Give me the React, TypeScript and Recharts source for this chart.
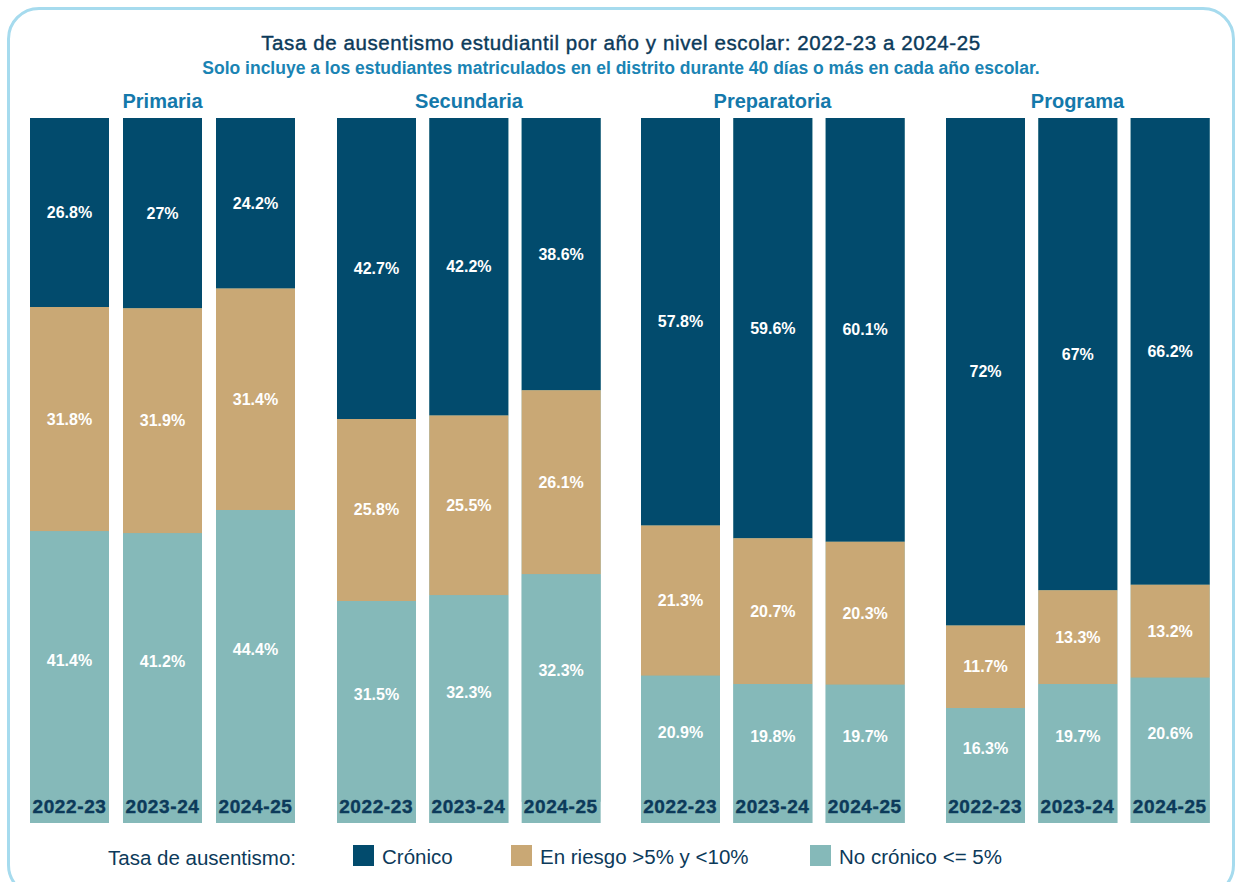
import React from 'react';
import { BarChart, Bar, XAxis, YAxis, LabelList } from 'recharts';

const years = ['2022-23', '2023-24', '2024-25'];
const levels = ['Primaria', 'Secundaria', 'Preparatoria', 'Programa'];
const cronico = [[26.8, 27, 24.2], [42.7, 42.2, 38.6], [57.8, 59.6, 60.1], [72, 67, 66.2]];
const enRiesgo = [[31.8, 31.9, 31.4], [25.8, 25.5, 26.1], [21.3, 20.7, 20.3], [11.7, 13.3, 13.2]];
const noCronico = [[41.4, 41.2, 44.4], [31.5, 32.3, 32.3], [20.9, 19.8, 19.7], [16.3, 19.7, 20.6]];
const seriesNames = ['Crónico', 'En riesgo >5% y <10%', 'No crónico <= 5%'];

const DARK = '#024b6d';
const TAN = '#c9a875';
const TEAL = '#85b9b9';
const NAVY = '#0c3a5a';
const FONT = '"Liberation Sans", Arial, Helvetica, sans-serif';

const panelLeft = [23, 330, 634, 939];
const panelWidth = [279, 277, 277, 277];

const makeLabel = (shift: number) => (props: any) => {
  const { x, y, width, height, value } = props;
  return (
    <text
      x={x + width / 2}
      y={y + height / 2 + shift}
      textAnchor="middle"
      dominantBaseline="central"
      fill="#ffffff"
      fontFamily={FONT}
      fontWeight="bold"
      fontSize={16}
    >
      {value}%
    </text>
  );
};

const YearTick = (props: any) => {
  const { x, y, payload } = props;
  return (
    <text
      x={x}
      y={y - 25}
      textAnchor="middle"
      dominantBaseline="central"
      fill={NAVY}
      fontFamily={FONT}
      fontWeight="bold"
      fontSize={19}
      letterSpacing={0.6}
      stroke={NAVY}
      strokeWidth={0.4}
    >
      {payload.value}
    </text>
  );
};

const Panel = ({ idx }: { idx: number }) => {
  const rows = years.map((yr, i) => ({
    year: yr,
    cronico: cronico[idx][i],
    riesgo: enRiesgo[idx][i],
    no: noCronico[idx][i],
  }));
  return (
    <div style={{ position: 'absolute', left: panelLeft[idx], top: 118 }}>
      <BarChart
        width={panelWidth[idx]}
        height={735}
        data={rows}
        margin={{ top: 0, right: 0, bottom: 0, left: 0 }}
        barSize={79}
      >
        <YAxis hide reversed domain={[0, 100]} allowDataOverflow />
        <XAxis dataKey="year" axisLine={false} tickLine={false} height={30} interval={0} tick={<YearTick />} />
        <Bar dataKey="cronico" stackId="a" fill={DARK} background={{ fill: TEAL }} isAnimationActive={false}>
          <LabelList dataKey="cronico" content={makeLabel(0)} />
        </Bar>
        <Bar dataKey="riesgo" stackId="a" fill={TAN} isAnimationActive={false}>
          <LabelList dataKey="riesgo" content={makeLabel(0)} />
        </Bar>
        <Bar dataKey="no" stackId="a" fill={TEAL} isAnimationActive={false}>
          <LabelList dataKey="no" content={makeLabel(-17)} />
        </Bar>
      </BarChart>
    </div>
  );
};

const panelCenters = [162.5, 469, 772.5, 1077.5];
const legendItems = [
  { name: seriesNames[0], color: DARK, x: 353 },
  { name: seriesNames[1], color: TAN, x: 511 },
  { name: seriesNames[2], color: TEAL, x: 810 },
];

export default function App() {
  return (
    <div style={{ position: 'relative', width: 1242, height: 882, overflow: 'hidden', background: '#fff', fontFamily: FONT }}>
      <style>{'body{margin:0}'}</style>
      <div
        style={{
          position: 'absolute', left: 7, top: 7, width: 1228, height: 890,
          border: '3px solid #a6dbee', borderRadius: 32, boxSizing: 'border-box',
        }}
      />
      <div
        style={{
          position: 'absolute', left: 0, width: 1242, top: 30, textAlign: 'center', fontSize: 20.5,
          letterSpacing: 0.6, WebkitTextStroke: '0.4px ' + NAVY, color: NAVY, lineHeight: '26px',
        }}
      >
        Tasa de ausentismo estudiantil por año y nivel escolar: 2022-23 a 2024-25
      </div>
      <div style={{ position: 'absolute', left: 0, width: 1242, top: 58, textAlign: 'center', fontSize: 17.5, fontWeight: 'bold', color: '#1a84b4', lineHeight: '20px' }}>
        Solo incluye a los estudiantes matriculados en el distrito durante 40 días o más en cada año escolar.
      </div>
      {levels.map((lv, i) => (
        <div key={lv} style={{ position: 'absolute', left: panelCenters[i] - 100, width: 200, top: 88, textAlign: 'center', fontSize: 20, fontWeight: 'bold', color: '#1479ab', lineHeight: '26px' }}>
          {lv}
        </div>
      ))}
      {levels.map((lv, i) => <Panel key={lv} idx={i} />)}
      <div style={{ position: 'absolute', left: 108, top: 846, fontSize: 20.5, color: NAVY, lineHeight: '24px' }}>Tasa de ausentismo:</div>
      {legendItems.map((it) => (
        <div key={it.name} style={{ position: 'absolute', left: it.x, top: 843, display: 'flex', alignItems: 'center', height: 24 }}>
          <div style={{ width: 21, height: 21, background: it.color }} />
          <span style={{ marginLeft: 8, fontSize: 20.5, color: NAVY, lineHeight: '24px', position: 'relative', top: 2 }}>{it.name}</span>
        </div>
      ))}
    </div>
  );
}
